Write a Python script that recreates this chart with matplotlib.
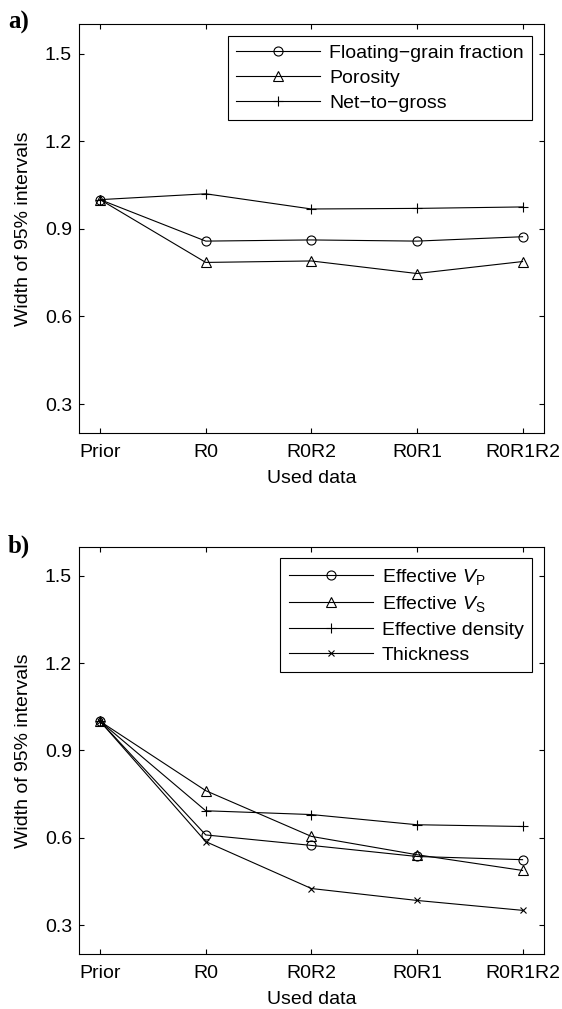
import matplotlib
matplotlib.use('Agg')
import matplotlib.pyplot as plt
import numpy as np

plt.rcParams['font.family'] = ['Liberation Sans', 'DejaVu Sans']
plt.rcParams['mathtext.fontset'] = 'custom'
plt.rcParams['mathtext.rm'] = 'Liberation Sans'
plt.rcParams['mathtext.it'] = 'Liberation Sans:italic'
plt.rcParams['font.size'] = 14

etapas = ['Prior', 'R0', 'R0R2', 'R0R1', 'R0R1R2']

# panel a
flotante = [1.0, 0.858, 0.862, 0.858, 0.873]
porosidad = [1.0, 0.785, 0.790, 0.747, 0.788]
net_gross = [1.0, 1.020, 0.968, 0.970, 0.975]

# panel b
vp = [1.0, 0.610, 0.574, 0.536, 0.525]
vs = [1.0, 0.762, 0.605, 0.542, 0.488]
densidad = [1.0, 0.693, 0.680, 0.645, 0.639]
espesor = [1.0, 0.587, 0.426, 0.385, 0.351]

yticks = [0.3, 0.6, 0.9, 1.2, 1.5]

fig = plt.figure(figsize=(5.62, 10.09), dpi=100)
ax1 = fig.add_axes([0.1406, 0.5706, 0.8268, 0.4052])
ax2 = fig.add_axes([0.1406, 0.0542, 0.8268, 0.4040])

x = np.arange(1, len(etapas) + 1)
estilo = dict(color='black', linewidth=0.8, markerfacecolor='none',
              markeredgecolor='black', markeredgewidth=0.8)

ax1.plot(x, flotante, marker='o', markersize=6.5, label='Floating\u2212grain fraction', **estilo)
ax1.plot(x, porosidad, marker='^', markersize=7, label='Porosity', **estilo)
ax1.plot(x, net_gross, marker='+', markersize=7, label='Net\u2212to\u2212gross', **estilo)

ax2.plot(x, vp, marker='o', markersize=6.5, label='Effective $V_\\mathrm{P}$', **estilo)
ax2.plot(x, vs, marker='^', markersize=7, label='Effective $V_\\mathrm{S}$', **estilo)
ax2.plot(x, densidad, marker='+', markersize=7, label='Effective density', **estilo)
ax2.plot(x, espesor, marker='x', markersize=4.5, label='Thickness', **estilo)

for ax in (ax1, ax2):
    ax.set_xlim(0.8, 5.2)
    ax.set_ylim(0.2, 1.6)
    ax.set_xticks(x)
    ax.set_xticklabels(etapas)
    ax.set_yticks(yticks)
    ax.set_yticklabels([f'{v:.1f}' for v in yticks])
    ax.tick_params(direction='in', length=3.5, width=0.8, top=True, right=True)
    ax.tick_params(axis='x', pad=8)
    ax.tick_params(axis='y', pad=5)
    for s in ax.spines.values():
        s.set_linewidth(0.8)
    ax.set_xlabel('Used data', labelpad=6)
    ax.set_ylabel('Width of 95% intervals', labelpad=9)
    leg = ax.legend(loc='upper right', handlelength=4.35, handletextpad=0.45,
                    labelspacing=0.38, borderaxespad=0.6, fancybox=False,
                    framealpha=1, borderpad=0.42)
    leg.get_frame().set_edgecolor('black')
    leg.get_frame().set_linewidth(0.8)

fig.text(0.0142, 0.9713, 'a)', family='Liberation Serif', weight='bold', fontsize=18, va='baseline')
fig.text(0.0142, 0.4526, 'b)', family='Liberation Serif', weight='bold', fontsize=18, va='baseline')

fig.savefig('out.png', dpi=100)
